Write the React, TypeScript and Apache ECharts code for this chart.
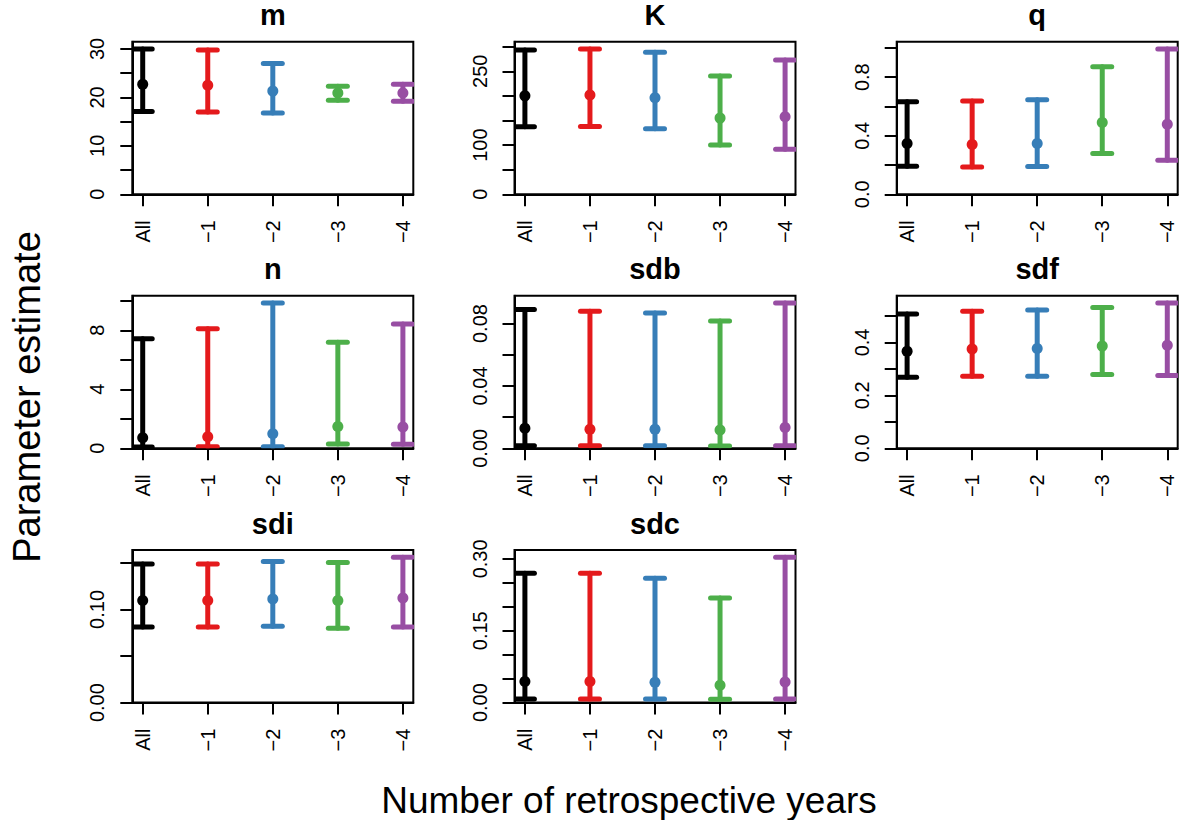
import React, { useEffect, useRef } from "react";
import * as echarts from "echarts";

const FONT = '"Liberation Sans", Arial, Helvetica, sans-serif';

const categories = ["All", "\u22121", "\u22122", "\u22123", "\u22124"];
const barColors = ["#000000", "#E41A1C", "#377EB8", "#4DAF4A", "#984EA3"];
const panelNames = ["m", "K", "q", "n", "sdb", "sdf", "sdi", "sdc"];

// m
const mEst = [22.7, 22.5, 21.3, 20.9, 20.9];
const mLower = [17.1, 17.0, 16.8, 19.4, 19.2];
const mUpper = [30.0, 29.8, 27.0, 22.3, 22.7];
// K
const kEst = [200, 201.6, 196, 154.8, 157.4];
const kLower = [137, 137.7, 133, 100.4, 91.6];
const kUpper = [293.3, 295.3, 288.4, 240.3, 272.9];
// q
const qEst = [0.347, 0.34, 0.347, 0.491, 0.479];
const qLower = [0.192, 0.187, 0.19, 0.279, 0.233];
const qUpper = [0.632, 0.637, 0.646, 0.872, 0.993];
// n
const nEst = [0.72, 0.79, 0.99, 1.47, 1.45];
const nLower = [0.08, 0.1, 0.1, 0.29, 0.27];
const nUpper = [7.43, 8.1, 9.85, 7.18, 8.42];
// sdb
const sdbEst = [0.0128, 0.0122, 0.0122, 0.0117, 0.0134];
const sdbLower = [0.0017, 0.0017, 0.0017, 0.0015, 0.0017];
const sdbUpper = [0.089, 0.0879, 0.0868, 0.0817, 0.0932];
// sdf
const sdfEst = [0.367, 0.375, 0.377, 0.386, 0.389];
const sdfLower = [0.268, 0.272, 0.272, 0.279, 0.275];
const sdfUpper = [0.507, 0.518, 0.522, 0.532, 0.549];
// sdi
const sdiEst = [0.1097, 0.1097, 0.1111, 0.1097, 0.1122];
const sdiLower = [0.0812, 0.0812, 0.082, 0.0798, 0.0812];
const sdiUpper = [0.1489, 0.1489, 0.1514, 0.1503, 0.156];
// sdc
const sdcEst = [0.0439, 0.0439, 0.0427, 0.0364, 0.043];
const sdcLower = [0.0077, 0.0077, 0.0077, 0.007, 0.0077];
const sdcUpper = [0.27, 0.27, 0.2594, 0.2184, 0.3033];

// y-axis ticks and labelled ticks per panel
const mTicks = [0, 5, 10, 15, 20, 25, 30];
const mLabels = [0, 10, 20, 30];
const kTicks = [0, 50, 100, 150, 200, 250, 300];
const kLabels = [0, 100, 250];
const qTicks = [0, 0.2, 0.4, 0.6, 0.8, 1.0];
const qLabels = [0, 0.4, 0.8];
const nTicks = [0, 2, 4, 6, 8, 10];
const nLabels = [0, 4, 8];
const sdbTicks = [0, 0.02, 0.04, 0.06, 0.08];
const sdbLabels = [0, 0.04, 0.08];
const sdfTicks = [0, 0.1, 0.2, 0.3, 0.4, 0.5];
const sdfLabels = [0, 0.2, 0.4];
const sdiTicks = [0, 0.05, 0.1, 0.15];
const sdiLabels = [0, 0.1];
const sdcTicks = [0, 0.05, 0.1, 0.15, 0.2, 0.25, 0.3];
const sdcLabels = [0, 0.15, 0.3];

const panels = [
  { est: mEst, lower: mLower, upper: mUpper, ticks: mTicks, labels: mLabels, digits: 0 },
  { est: kEst, lower: kLower, upper: kUpper, ticks: kTicks, labels: kLabels, digits: 0 },
  { est: qEst, lower: qLower, upper: qUpper, ticks: qTicks, labels: qLabels, digits: 1 },
  { est: nEst, lower: nLower, upper: nUpper, ticks: nTicks, labels: nLabels, digits: 0 },
  { est: sdbEst, lower: sdbLower, upper: sdbUpper, ticks: sdbTicks, labels: sdbLabels, digits: 2 },
  { est: sdfEst, lower: sdfLower, upper: sdfUpper, ticks: sdfTicks, labels: sdfLabels, digits: 1 },
  { est: sdiEst, lower: sdiLower, upper: sdiUpper, ticks: sdiTicks, labels: sdiLabels, digits: 2 },
  { est: sdcEst, lower: sdcLower, upper: sdcUpper, ticks: sdcTicks, labels: sdcLabels, digits: 2 },
];

const xTickValues = [1, 2, 3, 4, 5];

// layout (pixels)
const colLeft = [132.3, 514.5, 896.7];
const rowTop = [41.7, 295.7, 550];
const boxW = 281;
const boxH = 152.6;
const CAP = 9.5;

export default function App() {
  const ref = useRef<HTMLDivElement>(null);

  useEffect(() => {
    if (!ref.current) return;
    const chart = echarts.init(ref.current, null, { renderer: "svg" });

    const grids: any[] = [];
    const xAxes: any[] = [];
    const yAxes: any[] = [];
    const series: any[] = [];
    const graphics: any[] = [];

    panels.forEach((p, i) => {
      const col = i % 3;
      const row = Math.floor(i / 3);
      const left = colLeft[col];
      const top = rowTop[row];
      grids.push({
        left,
        top,
        width: boxW,
        height: boxH,
        show: true,
        borderColor: "#000",
        borderWidth: 2,
        backgroundColor: "transparent",
      });
      xAxes.push({
        gridIndex: i,
        type: "value",
        min: 0.84,
        max: 5.16,
        axisLine: { show: true, onZero: false, lineStyle: { color: "#000", width: 2 } },
        axisTick: {
          show: true,
          length: 12,
          customValues: xTickValues,
          lineStyle: { color: "#000", width: 2 },
        },
        axisLabel: {
          show: true,
          customValues: xTickValues,
          rotate: 90,
          margin: 26,
          color: "#000",
          fontSize: 20,
          fontFamily: FONT,
          formatter: (v: number) => categories[Math.round(v) - 1] ?? "",
        },
        splitLine: { show: false },
      });
      const yMax = 1.05 * Math.max(...p.upper);
      yAxes.push({
        gridIndex: i,
        type: "value",
        min: 0,
        max: yMax,
        axisLine: { show: true, onZero: false, lineStyle: { color: "#000", width: 2 } },
        axisTick: {
          show: true,
          length: 12,
          customValues: p.ticks,
          lineStyle: { color: "#000", width: 2 },
        },
        axisLabel: {
          show: true,
          customValues: p.labels,
          rotate: 90,
          margin: 25,
          color: "#000",
          fontSize: 20,
          fontFamily: FONT,
          formatter: (v: number) => v.toFixed(p.digits),
        },
        splitLine: { show: false },
      });
      series.push({
        type: "custom",
        xAxisIndex: i,
        yAxisIndex: i,
        clip: true,
        data: p.est.map((e, j) => [j + 1, p.lower[j], p.upper[j], e, j]),
        encode: { x: 0, y: [1, 2, 3] },
        renderItem: (params: any, api: any) => {
          const x = api.value(0);
          const lo = api.coord([x, api.value(1)]);
          const hi = api.coord([x, api.value(2)]);
          const pt = api.coord([x, api.value(3)]);
          const c = barColors[api.value(4)];
          const st = { stroke: c, lineWidth: 5, lineCap: "round", fill: "none" };
          return {
            type: "group",
            children: [
              { type: "line", shape: { x1: lo[0], y1: lo[1], x2: hi[0], y2: hi[1] }, style: st },
              { type: "line", shape: { x1: hi[0] - CAP, y1: hi[1], x2: hi[0] + CAP, y2: hi[1] }, style: st },
              { type: "line", shape: { x1: lo[0] - CAP, y1: lo[1], x2: lo[0] + CAP, y2: lo[1] }, style: st },
              { type: "circle", shape: { cx: pt[0], cy: pt[1], r: 5.5 }, style: { fill: c } },
            ],
          };
        },
      });
      graphics.push({
        type: "text",
        x: left + boxW / 2,
        y: top - 26.5,
        style: {
          text: panelNames[i],
          fontSize: 29,
          lineHeight: 29,
          fontWeight: "bold",
          fontFamily: FONT,
          fill: "#000",
          textAlign: "center",
          textVerticalAlign: "middle",
        },
      });
    });

    graphics.push({
      type: "text",
      x: 27,
      y: 397,
      rotation: Math.PI / 2,
      style: {
        text: "Parameter estimate",
        fontSize: 38,
        fontFamily: FONT,
        fill: "#000",
        textAlign: "center",
        textVerticalAlign: "middle",
      },
    });
    graphics.push({
      type: "text",
      x: 629,
      y: 800,
      style: {
        text: "Number of retrospective years",
        fontSize: 37,
        fontFamily: FONT,
        fill: "#000",
        textAlign: "center",
        textVerticalAlign: "middle",
      },
    });

    chart.setOption({
      animation: false,
      backgroundColor: "#ffffff",
      grid: grids,
      xAxis: xAxes,
      yAxis: yAxes,
      series,
      graphic: graphics,
    });

    return () => {
      chart.dispose();
    };
  }, []);

  return (
    <div
      ref={ref}
      style={{ position: "absolute", left: 0, top: 0, width: 1181, height: 820 }}
    />
  );
}
